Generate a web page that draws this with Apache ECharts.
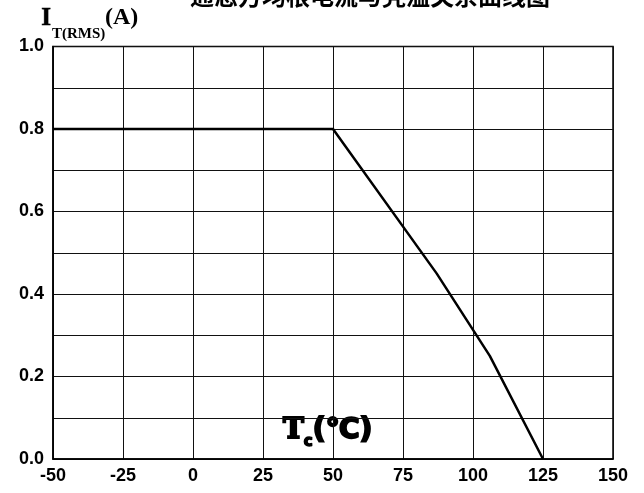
<!DOCTYPE html>
<html>
<head>
<meta charset="utf-8">
<script src="https://cdn.jsdelivr.net/npm/echarts@6/dist/echarts.min.js"></script>
<style>
html,body{margin:0;padding:0;background:#fff;}
#c{width:644px;height:493px;}
</style>
</head>
<body>
<div id="c"></div>
<script>
// Data
var caseTemp = [-50, 50, 87, 106, 125];      // Tc (°C)
var rmsCurrent = [0.8, 0.8, 0.45, 0.25, 0.0]; // IT(RMS) (A)
var titleText = '通态方均根电流与壳温关系曲线图';

var chart = echarts.init(document.getElementById('c'));
var pts = caseTemp.map(function (t, i) { return [t, rmsCurrent[i]]; });

chart.setOption({
  animation: false,
  backgroundColor: '#fff',
  grid: { left: 53, right: 31, top: 46.5, bottom: 34, show: true, borderColor: '#000', borderWidth: 1.5, containLabel: false },
  xAxis: {
    type: 'value', min: -50, max: 150, interval: 25,
    axisLine: { show: true, onZero: false, lineStyle: { color: '#000', width: 1.5 } },
    axisTick: { show: false },
    splitLine: { show: true, lineStyle: { color: '#111', width: 1 } },
    axisLabel: { color: '#000', fontFamily: 'Liberation Sans', fontWeight: 'bold', fontSize: 18, margin: 8 }
  },
  yAxis: {
    type: 'value', min: 0, max: 1.0, interval: 0.1,
    axisLine: { show: true, onZero: false, lineStyle: { color: '#000', width: 1.5 } },
    axisTick: { show: false },
    splitLine: { show: true, lineStyle: { color: '#111', width: 1 } },
    axisLabel: {
      color: '#000', fontFamily: 'Liberation Sans', fontWeight: 'bold', fontSize: 18, margin: 9,
      formatter: function (v) { var k = Math.round(v * 10); return k % 2 === 0 ? (k / 10).toFixed(1) : ''; }
    }
  },
  series: [{
    type: 'line', data: pts, symbol: 'none',
    lineStyle: { color: '#000', width: 2.5 }
  }],
  graphic: [
    { type: 'text', left: 190, top: -16, style: { text: titleText, font: 'bold 24px "Noto Sans CJK SC"', fill: '#000' } },
    { type: 'text', left: 41, top: 6, style: { text: 'I', font: 'bold 25px "Liberation Serif"', fill: '#000', stroke: '#000', lineWidth: 0.6 } },
    { type: 'text', left: 52, top: 27, style: { text: 'T(RMS)', font: 'bold 15px "Liberation Serif"', fill: '#000' } },
    { type: 'text', left: 105, top: 6, style: { text: '(A)', font: 'bold 24px "Liberation Serif"', fill: '#000' } },
    { type: 'text', left: 282, top: 416, style: {
      text: '{t|T}{c|c}{p|(℃)}',
      rich: {
        t: { font: 'bold 28px "DejaVu Serif"', fill: '#000', stroke: '#000', lineWidth: 2 },
        c: { font: 'bold 15px "DejaVu Sans"', fill: '#000', stroke: '#000', lineWidth: 1.5, padding: [22, 0, 0, 0] },
        p: { font: 'bold 28px "DejaVu Sans"', fill: '#000', stroke: '#000', lineWidth: 2 }
      }
    } }
  ]
});
</script>
</body>
</html>
